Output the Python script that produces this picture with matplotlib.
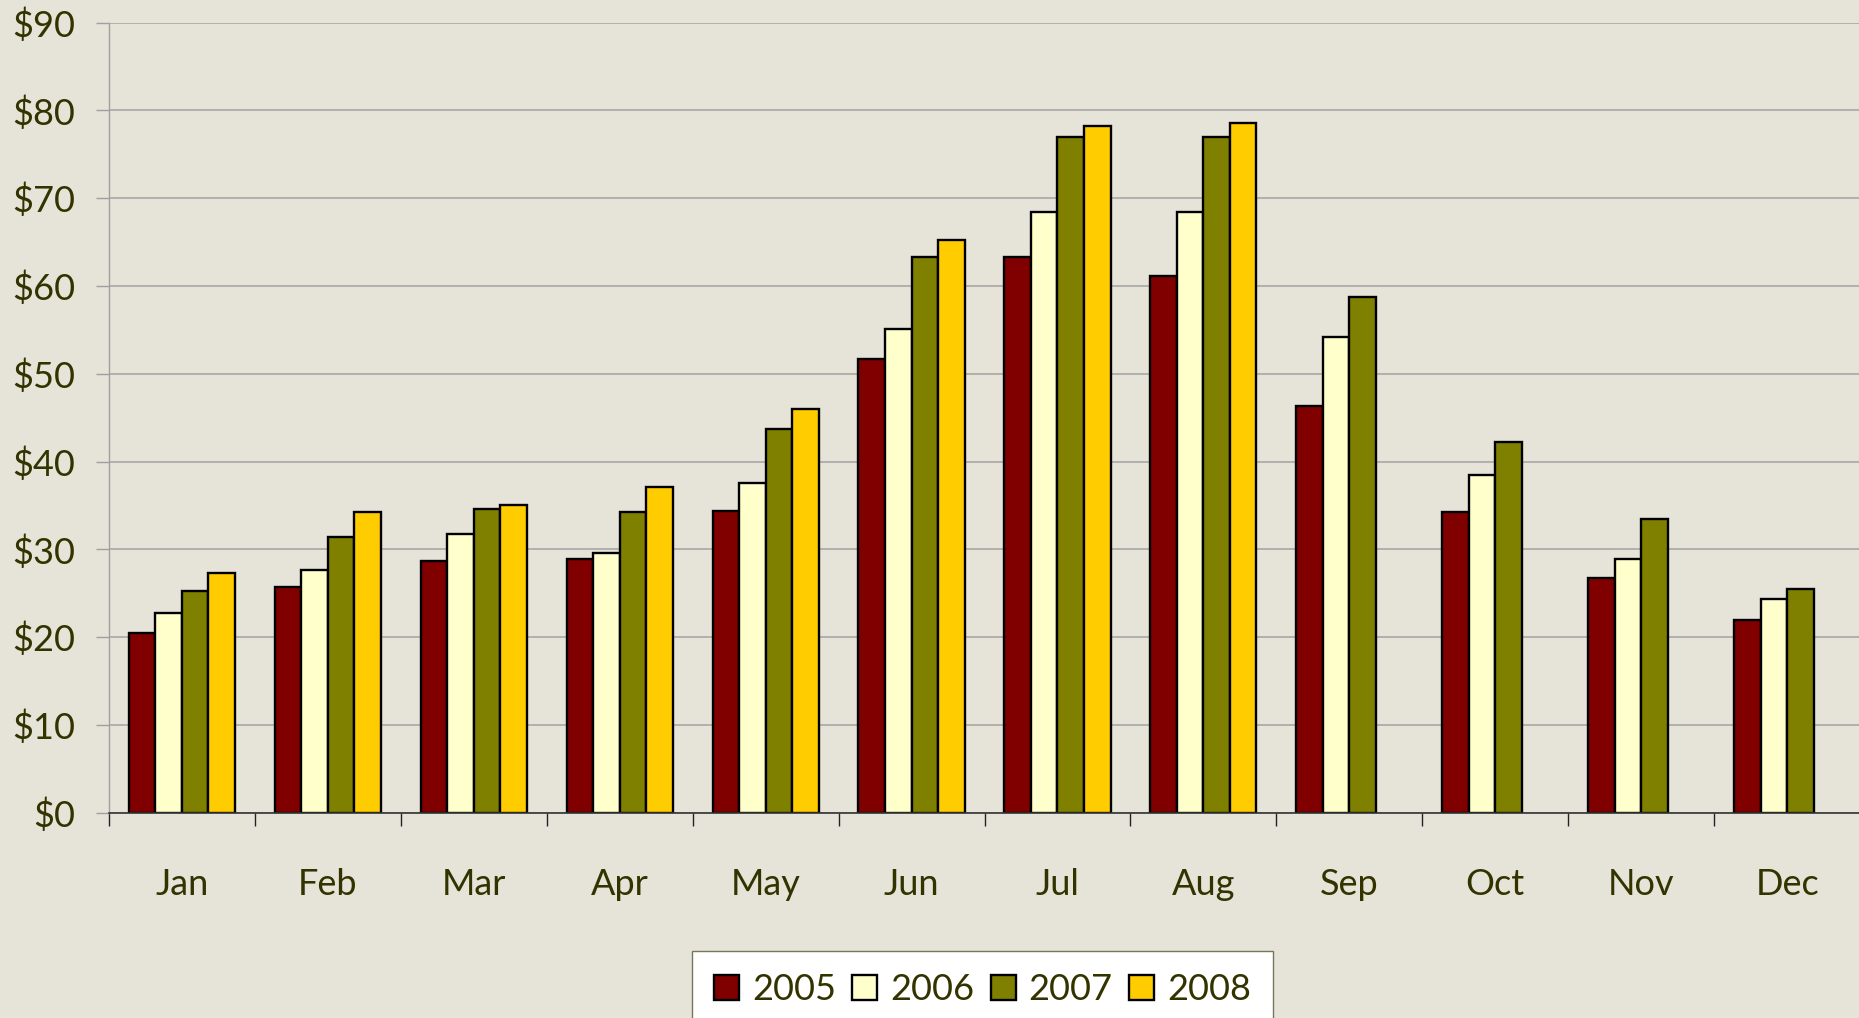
import numpy as np
import matplotlib.pyplot as plt

# monthly average values per year (2008 only runs through August)
months = ['Jan', 'Feb', 'Mar', 'Apr', 'May', 'Jun',
          'Jul', 'Aug', 'Sep', 'Oct', 'Nov', 'Dec']
years = ['2005', '2006', '2007', '2008']
values_2005 = [20.5, 25.7, 28.7, 28.9, 34.4, 51.7, 63.3, 61.1, 46.3, 34.2, 26.7, 21.9]
values_2006 = [22.8, 27.6, 31.7, 29.6, 37.6, 55.1, 68.4, 68.4, 54.2, 38.5, 28.9, 24.4]
values_2007 = [25.3, 31.4, 34.6, 34.2, 43.7, 63.3, 77.0, 77.0, 58.8, 42.2, 33.5, 25.5]
values_2008 = [27.3, 34.2, 35.1, 37.1, 46.0, 65.2, 78.2, 78.6]
y_ticks = [0, 10, 20, 30, 40, 50, 60, 70, 80, 90]

series = [values_2005, values_2006, values_2007, values_2008]
colors = ['#800000', '#ffffcc', '#808000', '#ffcc00']
text_color = '#333300'
bg_color = '#e6e3d9'

plt.rcParams['font.family'] = ['Lato', 'DejaVu Sans']

fig = plt.figure(figsize=(18.59, 10.18), dpi=100, facecolor=bg_color)
ax = fig.add_axes([0.0586, 0.2017, 0.9420, 0.776])
ax.set_facecolor('none')

# Excel-style clustered bars: gap width 150%
bar_w = 1 / 5.5
for i, (vals, col, yr) in enumerate(zip(series, colors, years)):
    x = np.arange(len(vals)) + (i - 1.5) * bar_w
    ax.bar(x, vals, width=bar_w, color=col, edgecolor='black',
           linewidth=1.7, label=yr, zorder=3)

ax.set_xlim(-0.5, 11.5)
ax.set_ylim(0, 90)

# y axis
ax.set_yticks(y_ticks)
ax.set_yticklabels([f'${v}' for v in y_ticks])
ax.tick_params(axis='y', length=9.4, width=1, color='#a0a0a0', pad=15,
               labelsize=26, labelcolor=text_color)
ax.grid(axis='y', color='#a8a8a8', linewidth=1.2, zorder=0)

# x axis: ticks on category boundaries, labels in the middle
ax.set_xticks(np.arange(-0.5, 12.0, 1))
ax.set_xticklabels([])
ax.tick_params(axis='x', which='major', length=9, width=1, color='#222222')
ax.set_xticks(np.arange(12), minor=True)
ax.set_xticklabels(months, minor=True)
ax.tick_params(axis='x', which='minor', length=0, pad=40,
               labelsize=26, labelcolor=text_color)

for side in ['top', 'right']:
    ax.spines[side].set_visible(False)
ax.spines['left'].set_color('#a0a0a0')
ax.spines['left'].set_linewidth(1)
ax.spines['bottom'].set_color('#333333')
ax.spines['bottom'].set_linewidth(1.2)
ax.spines['bottom'].set_zorder(4)

leg = fig.legend(loc='upper center', bbox_to_anchor=(0.5285, 0.066), ncol=4,
                 fontsize=26, frameon=True, fancybox=False,
                 handlelength=0.69, handleheight=0.69, handletextpad=0.36,
                 columnspacing=0.45, borderpad=0.62, borderaxespad=0)
leg.get_frame().set_facecolor('white')
leg.get_frame().set_edgecolor('#77775a')
leg.get_frame().set_linewidth(1)
leg.get_frame().set_alpha(1)
for t in leg.get_texts():
    t.set_color(text_color)

fig.savefig('out.png', dpi=100, facecolor=bg_color)
